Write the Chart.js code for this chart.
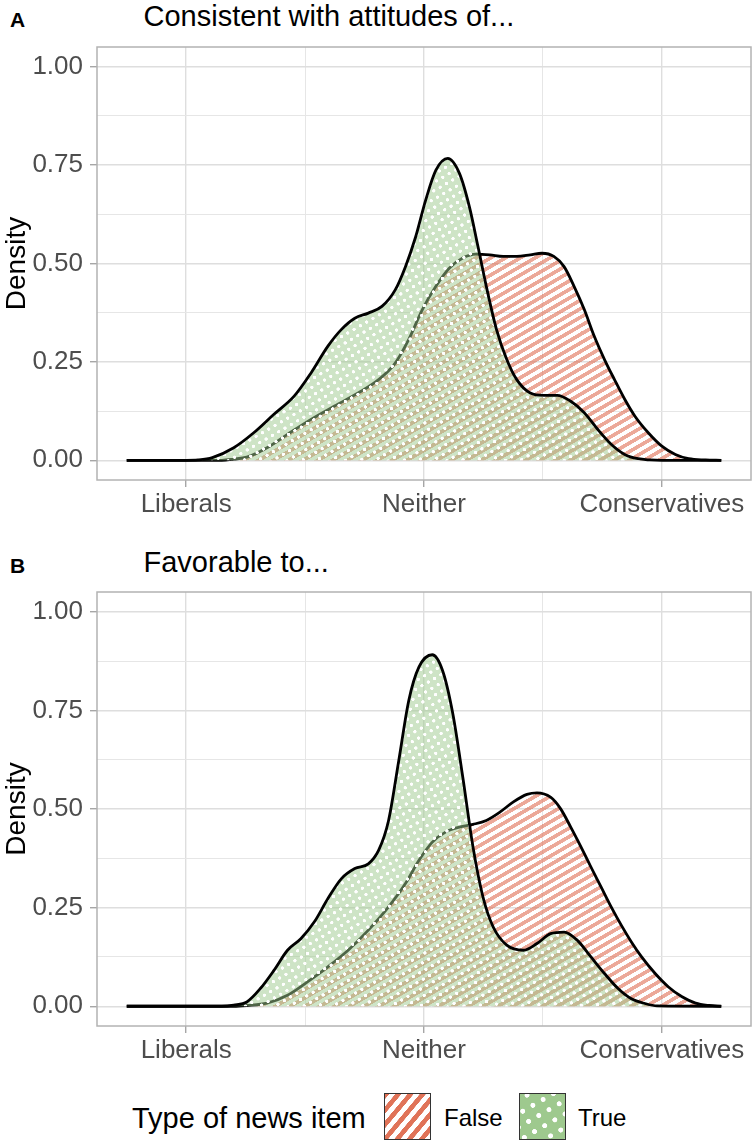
<!DOCTYPE html>
<html>
<head>
<meta charset="utf-8">
<script src="https://cdn.jsdelivr.net/npm/chart.js@4.4.1/dist/chart.umd.min.js"></script>
<style>
html,body{margin:0;padding:0;background:#fff;}
body{width:756px;height:1147px;position:relative;overflow:hidden;font-family:"Liberation Sans",Arial,Helvetica,sans-serif;color:#000;}
.abs{position:absolute;white-space:nowrap;line-height:1;}
canvas.chart{position:absolute;left:0;}
canvas.key{position:absolute;}
</style>
</head>
<body>
<div class="abs" style="left:10px;top:8.5px;font-size:21px;font-weight:bold;">A</div>
<div class="abs" id="titleA" style="left:143.5px;top:1.5px;font-size:29px;"></div>
<canvas class="chart" id="chartA" width="756" height="530" style="top:0px;"></canvas>

<div class="abs" style="left:10px;top:555px;font-size:21px;font-weight:bold;">B</div>
<div class="abs" id="titleB" style="left:143.5px;top:548px;font-size:29px;"></div>
<canvas class="chart" id="chartB" width="756" height="546" style="top:530px;"></canvas>

<div class="abs" id="legendTitle" style="left:132px;top:1104px;font-size:29px;"></div>
<canvas class="key" id="keyFalse" width="47" height="47" style="left:383.5px;top:1093px;"></canvas>
<div class="abs" id="labFalse" style="left:444px;top:1106px;font-size:24px;"></div>
<canvas class="key" id="keyTrue" width="47" height="47" style="left:518.5px;top:1093px;"></canvas>
<div class="abs" id="labTrue" style="left:578px;top:1106px;font-size:24px;"></div>

<script>
// ---------- data ----------
const panelTitles = ['Consistent with attitudes of...', 'Favorable to...'];
const seriesNames = ['False', 'True'];
const legendTitle = 'Type of news item';
const yAxisTitle = 'Density';

const xTickValues = [-1, 0, 1];
const xTickLabels = ['Liberals', 'Neither', 'Conservatives'];
const xGridValues = [-1, -0.5, 0, 0.5, 1];
const yTickValues = [0, 0.25, 0.5, 0.75, 1];
const yTickLabels = ['0.00', '0.25', '0.50', '0.75', '1.00'];
const yGridValues = [0, 0.125, 0.25, 0.375, 0.5, 0.625, 0.75, 0.875, 1];

// Panel A — True items
const aTrueX = [-1.25, -1.0, -0.95, -0.89, -0.80, -0.716, -0.631, -0.546, -0.475, -0.404, -0.348, -0.291, -0.234, -0.177, -0.121, -0.078, -0.035, 0.007, 0.05, 0.10, 0.149, 0.191, 0.227, 0.262, 0.305, 0.348, 0.39, 0.447, 0.504, 0.56, 0.617, 0.674, 0.73, 0.787, 0.844, 0.90, 0.95, 1.0, 1.25];
const aTrueY = [0, 0, 0.001, 0.007, 0.032, 0.070, 0.117, 0.163, 0.222, 0.290, 0.332, 0.361, 0.374, 0.391, 0.433, 0.492, 0.568, 0.661, 0.737, 0.767, 0.729, 0.644, 0.543, 0.442, 0.332, 0.256, 0.205, 0.171, 0.165, 0.165, 0.150, 0.121, 0.079, 0.041, 0.015, 0.004, 0.001, 0, 0];
// Panel A — False items
const aFalseX = [-1.25, -0.85, -0.80, -0.745, -0.66, -0.574, -0.475, -0.376, -0.277, -0.191, -0.121, -0.064, -0.007, 0.05, 0.106, 0.163, 0.22, 0.277, 0.333, 0.39, 0.447, 0.496, 0.546, 0.589, 0.631, 0.674, 0.716, 0.759, 0.801, 0.844, 0.887, 0.943, 1.0, 1.057, 1.113, 1.184, 1.25];
const aFalseY = [0, 0, 0.003, 0.008, 0.032, 0.066, 0.104, 0.138, 0.171, 0.205, 0.247, 0.307, 0.383, 0.442, 0.488, 0.514, 0.524, 0.522, 0.518, 0.518, 0.522, 0.526, 0.518, 0.492, 0.442, 0.383, 0.315, 0.256, 0.205, 0.155, 0.112, 0.070, 0.036, 0.015, 0.004, 0.001, 0];

// Panel B — True items
const bTrueX = [-1.25, -0.85, -0.80, -0.745, -0.688, -0.631, -0.574, -0.518, -0.461, -0.404, -0.348, -0.291, -0.234, -0.191, -0.149, -0.106, -0.064, -0.021, 0.035, 0.078, 0.121, 0.163, 0.206, 0.248, 0.291, 0.348, 0.418, 0.475, 0.532, 0.589, 0.645, 0.702, 0.759, 0.816, 0.872, 0.929, 0.98, 1.25];
const bTrueY = [0, 0, 0.003, 0.011, 0.045, 0.091, 0.142, 0.171, 0.214, 0.273, 0.323, 0.349, 0.361, 0.395, 0.471, 0.623, 0.775, 0.860, 0.891, 0.851, 0.742, 0.581, 0.404, 0.277, 0.201, 0.155, 0.142, 0.159, 0.184, 0.188, 0.167, 0.125, 0.083, 0.045, 0.019, 0.007, 0.001, 0];
// Panel B — False items
const bFalseX = [-1.25, -0.80, -0.745, -0.66, -0.574, -0.49, -0.404, -0.319, -0.234, -0.149, -0.078, -0.021, 0.035, 0.092, 0.149, 0.206, 0.262, 0.319, 0.376, 0.433, 0.475, 0.532, 0.574, 0.617, 0.66, 0.702, 0.745, 0.787, 0.83, 0.872, 0.915, 0.972, 1.028, 1.085, 1.142, 1.199, 1.25];
const bFalseY = [0, 0, 0.002, 0.008, 0.028, 0.062, 0.100, 0.142, 0.193, 0.252, 0.311, 0.370, 0.416, 0.442, 0.454, 0.461, 0.471, 0.492, 0.518, 0.537, 0.541, 0.530, 0.501, 0.454, 0.404, 0.353, 0.302, 0.252, 0.205, 0.163, 0.125, 0.083, 0.049, 0.024, 0.008, 0.002, 0];

// ---------- styling ----------
const FONT = '"Liberation Sans", Arial, Helvetica, sans-serif';
const RED = [224, 115, 88];
const GREEN = [158, 201, 142];

document.getElementById('titleA').textContent = panelTitles[0];
document.getElementById('titleB').textContent = panelTitles[1];
document.getElementById('legendTitle').textContent = legendTitle;
document.getElementById('labFalse').textContent = seriesNames[0];
document.getElementById('labTrue').textContent = seriesNames[1];

const scratch = document.createElement('canvas').getContext('2d');

function stripePattern(bg, fg, angle, scale) {
  const c = document.createElement('canvas');
  c.width = 40; c.height = 26;
  const g = c.getContext('2d');
  if (bg) { g.fillStyle = bg; g.fillRect(0, 0, 40, 26); }
  g.fillStyle = fg; g.fillRect(0, 0, 40, 13);
  const p = scratch.createPattern(c, 'repeat');
  p.setTransform(new DOMMatrix().rotateSelf(-angle).scaleSelf(scale));
  return p;
}
function dotPattern(bg, dot, r, angle, scale) {
  const c = document.createElement('canvas');
  c.width = 28; c.height = 28;
  const g = c.getContext('2d');
  g.fillStyle = bg; g.fillRect(0, 0, 28, 28);
  g.fillStyle = dot; g.beginPath(); g.arc(14, 14, r, 0, Math.PI * 2); g.fill();
  const p = scratch.createPattern(c, 'repeat');
  p.setTransform(new DOMMatrix().rotateSelf(-angle).scaleSelf(scale));
  return p;
}

const falseFill = stripePattern(null, `rgba(${RED},0.62)`, 30, 0.285);
const trueFill = dotPattern(`rgba(${GREEN},0.5)`, 'rgba(255,255,255,1)', 6.5, 30, 0.26);

const panelBorder = {
  id: 'panelBorder',
  afterDraw(chart) {
    const { ctx, chartArea: a } = chart;
    ctx.save();
    ctx.strokeStyle = '#b3b3b3';
    ctx.lineWidth = 1.5;
    ctx.strokeRect(a.left, a.top, a.right - a.left, a.bottom - a.top);
    ctx.restore();
  }
};

function pts(xs, ys) { return xs.map((x, i) => ({ x: x, y: ys[i] })); }

function makeChart(id, tX, tY, fX, fY, padTop) {
  return new Chart(document.getElementById(id), {
    type: 'line',
    data: {
      datasets: [
        { label: seriesNames[1], data: pts(tX, tY), order: 0, fill: 'origin',
          backgroundColor: trueFill, borderColor: '#000', borderWidth: 2.8,
          pointRadius: 0, cubicInterpolationMode: 'monotone' },
        { label: seriesNames[0], data: pts(fX, fY), order: 1, fill: 'origin',
          backgroundColor: falseFill, borderColor: '#000', borderWidth: 2.8,
          pointRadius: 0, cubicInterpolationMode: 'monotone' }
      ]
    },
    options: {
      responsive: false,
      animation: false,
      layout: { padding: { top: padTop, right: 5, left: 0, bottom: 0 } },
      plugins: {
        legend: { display: false },
        tooltip: { enabled: false },
        title: { display: false },
        filler: { drawTime: 'beforeDatasetDraw' }
      },
      scales: {
        x: {
          type: 'linear', min: -1.375, max: 1.375,
          afterBuildTicks: s => { s.ticks = xGridValues.map(v => ({ value: v })); },
          afterFit: s => { s.height = 50; },
          border: { display: false },
          grid: {
            color: c => (c.tick && xTickValues.includes(c.tick.value)) ? '#dedede' : '#e6e6e6',
            lineWidth: c => (c.tick && xTickValues.includes(c.tick.value)) ? 1.4 : 1,
            tickLength: 7,
            tickColor: c => (c.tick && xTickValues.includes(c.tick.value)) ? '#a6a6a6' : 'rgba(0,0,0,0)',
            tickWidth: 1.4
          },
          ticks: {
            autoSkip: false, maxRotation: 0, minRotation: 0, padding: 2,
            color: '#4d4d4d', font: { family: FONT, size: 26 },
            callback: v => { const i = xTickValues.indexOf(v); return i >= 0 ? xTickLabels[i] : ''; }
          }
        },
        y: {
          type: 'linear', min: -0.05, max: 1.05,
          afterBuildTicks: s => { s.ticks = yGridValues.map(v => ({ value: v })); },
          afterFit: s => { s.width = 97; },
          border: { display: false },
          grid: {
            color: c => (c.tick && yTickValues.includes(c.tick.value)) ? '#dedede' : '#e6e6e6',
            lineWidth: c => (c.tick && yTickValues.includes(c.tick.value)) ? 1.4 : 1,
            tickLength: 7,
            tickColor: c => (c.tick && yTickValues.includes(c.tick.value)) ? '#a6a6a6' : 'rgba(0,0,0,0)',
            tickWidth: 1.4
          },
          ticks: {
            autoSkip: false, padding: 7,
            color: '#4d4d4d', font: { family: FONT, size: 26 },
            callback: v => { const i = yTickValues.indexOf(v); return i >= 0 ? yTickLabels[i] : ''; }
          },
          title: {
            display: true, text: yAxisTitle, color: '#000',
            font: { family: FONT, size: 28 }, padding: 0
          }
        }
      }
    },
    plugins: [panelBorder]
  });
}

makeChart('chartA', aTrueX, aTrueY, aFalseX, aFalseY, 47);
makeChart('chartB', bTrueX, bTrueY, bFalseX, bFalseY, 62);

// legend keys
(function () {
  const kf = document.getElementById('keyFalse').getContext('2d');
  kf.fillStyle = '#fff'; kf.fillRect(0, 0, 47, 47);
  kf.fillStyle = stripePattern(null, `rgb(${RED})`, 50, 0.36);
  kf.fillRect(0, 0, 47, 47);
  kf.strokeStyle = '#333'; kf.lineWidth = 1; kf.strokeRect(0.5, 0.5, 46, 46);

  const kt = document.getElementById('keyTrue').getContext('2d');
  kt.fillStyle = dotPattern(`rgb(${GREEN})`, '#fff', 6, 30, 0.42);
  kt.fillRect(0, 0, 47, 47);
  kt.strokeStyle = '#333'; kt.lineWidth = 1; kt.strokeRect(0.5, 0.5, 46, 46);
})();
</script>
</body>
</html>
